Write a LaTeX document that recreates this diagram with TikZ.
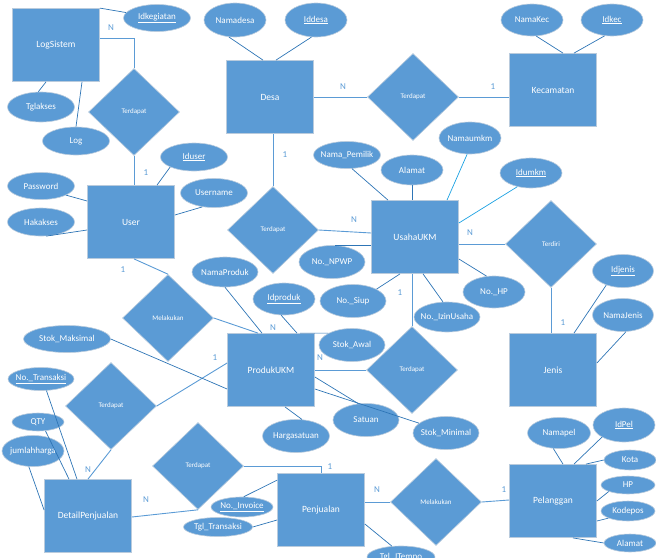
\documentclass[tikz,border=0pt]{standalone}
\usepackage{fontspec}
\setmainfont{Carlito}
\usetikzlibrary{shapes.geometric,calc}
\definecolor{ukm}{HTML}{5B9BD5}
\definecolor{edg}{HTML}{B9CBDD}
\definecolor{aln}{HTML}{2E75B6}
\definecolor{rln}{HTML}{5B9BD5}
\definecolor{cln}{HTML}{1BA1E2}
\definecolor{lbl}{HTML}{5B9BD5}
\newcommand{\zb}[1]{\makebox[0pt]{#1}}
\begin{document}
\begin{tikzpicture}[x=1pt,y=-1pt,
  ent/.style={rectangle,fill=ukm,draw=edg,line width=0.8pt,minimum width=87pt,minimum height=73pt,inner sep=0pt,text=white,font=\fontsize{9.5}{11}\selectfont},
  rel/.style={diamond,fill=ukm,draw=edg,line width=0.6pt,minimum width=91pt,minimum height=87pt,inner sep=0pt,text=white,font=\fontsize{7}{8}\selectfont},
  attr/.style 2 args={ellipse,fill=ukm,draw=edg,line width=0.6pt,minimum width=#1,minimum height=#2,inner sep=0pt,text=white,font=\fontsize{9}{10}\selectfont},
  aconn/.style={draw=aln,line width=0.7pt},
  rconn/.style={draw=rln,line width=0.9pt},
  cconn/.style={draw=cln,line width=0.7pt},
  card/.style={text=lbl,font=\fontsize{9}{10}\selectfont,inner sep=0pt}]
\useasboundingbox (0,0) rectangle (656,557);

% entities
\node[ent] (LogSistem) at (56,45) {LogSistem};
\node[ent] (User) at (131,222) {User};
\node[ent] (Desa) at (270,97) {Desa};
\node[ent] (Kecamatan) at (553,90) {Kecamatan};
\node[ent] (UsahaUKM) at (415,237) {UsahaUKM};
\node[ent] (Jenis) at (553,370) {Jenis};
\node[ent] (ProdukUKM) at (271,370) {ProdukUKM};
\node[ent] (DetailPenjualan) at (88,516) {DetailPenjualan};
\node[ent] (Penjualan) at (321,510) {Penjualan};
\node[ent] (Pelanggan) at (553,501) {Pelanggan};

% relationships
\node[rel] (R1) at (134,112) {Terdapat};
\node[rel] (R2) at (413,97) {Terdapat};
\node[rel] (R3) at (273,230) {Terdapat};
\node[rel] (R4) at (551,244) {Terdiri};
\node[rel] (R5) at (412,370) {Terdapat};
\node[rel] (R6) at (168,318) {Melakukan};
\node[rel] (R7) at (111,406) {Terdapat};
\node[rel] (R8) at (198,466) {Terdapat};
\node[rel] (R9) at (436,502) {Melakukan};

% attributes
\node[attr={67pt}{27pt}] (Idkegiatan) at (157,18) {\zb{\underline{Idkegiatan}}};
\node[attr={67pt}{30pt}] (Tglakses) at (41,107) {\zb{Tglakses}};
\node[attr={67pt}{28pt}] (Log) at (76,141) {\zb{Log}};
\node[attr={67pt}{28pt}] (Iduser) at (194,157) {\zb{\underline{Iduser}}};
\node[attr={67pt}{27pt}] (Password) at (41,186) {\zb{Password}};
\node[attr={67pt}{28pt}] (Hakakses) at (41,222) {\zb{Hakakses}};
\node[attr={67pt}{29pt}] (Username) at (214,193) {\zb{Username}};
\node[attr={62pt}{34pt}] (Namadesa) at (235,20) {\zb{Namadesa}};
\node[attr={62pt}{34pt}] (Iddesa) at (316,20) {\zb{\underline{Iddesa}}};
\node[attr={62pt}{32pt}] (NamaKec) at (532,20) {\zb{NamaKec}};
\node[attr={62pt}{32pt}] (Idkec) at (612,20) {\zb{\underline{Idkec}}};
\node[attr={67pt}{27pt}] (NamaPemilik) at (347,155) {\zb{Nama\_Pemilik}};
\node[attr={62pt}{30pt}] (Alamat) at (412,170) {\zb{Alamat}};
\node[attr={62pt}{32pt}] (Namaumkm) at (470,138) {\zb{Namaumkm}};
\node[attr={62pt}{30pt}] (Idumkm) at (531,173) {\zb{\underline{Idumkm}}};
\node[attr={66pt}{33pt}] (NoNPWP) at (332,262) {\zb{No.\_NPWP}};
\node[attr={66pt}{33pt}] (NoSiup) at (353,301) {\zb{No.\_Siup}};
\node[attr={66pt}{30pt}] (NoIzin) at (447,317) {\zb{No.\_IzinUsaha}};
\node[attr={62pt}{32pt}] (NoHP) at (494,292) {\zb{No.\_HP}};
\node[attr={61pt}{33pt}] (Idjenis) at (623,271) {\zb{\underline{Idjenis}}};
\node[attr={61pt}{33pt}] (NamaJenis) at (623,315) {\zb{NamaJenis}};
\node[attr={66pt}{30pt}] (NamaProduk) at (225,272) {\zb{NamaProduk}};
\node[attr={62pt}{32pt}] (Idproduk) at (284,299) {\zb{\underline{Idproduk}}};
\node[attr={66pt}{33pt}] (StokAwal) at (352,345) {\zb{Stok\_Awal}};
\node[attr={66pt}{33pt}] (Satuan) at (366,420) {\zb{Satuan}};
\node[attr={66pt}{33pt}] (StokMin) at (446,433) {\zb{Stok\_Minimal}};
\node[attr={67pt}{33pt}] (Hargasatuan) at (296,436) {\zb{Hargasatuan}};
\node[attr={87pt}{27pt}] (StokMaks) at (67,339) {\zb{Stok\_Maksimal}};
\node[attr={66pt}{23pt}] (NoTransaksi) at (41,379) {\zb{\underline{No.\_Transaksi}}};
\node[attr={52pt}{18pt}] (QTY) at (38,422) {\zb{QTY}};
\node[attr={62pt}{31pt}] (jumlahharga) at (33,451) {\zb{jumlahharga}};
\node[attr={62pt}{20pt}] (NoInvoice) at (242,507) {\zb{\underline{No.\_Invoice}}};
\node[attr={69pt}{19pt}] (TglTransaksi) at (218,527) {\zb{Tgl\_Transaksi}};
\node[attr={68pt}{22pt}] (TglJTempo) at (401,557) {\zb{Tgl\_JTempo}};
\node[attr={63pt}{31pt}] (Namapel) at (559,433) {\zb{Namapel}};
\node[attr={62pt}{34pt}] (IdPel) at (624,425) {\zb{\underline{IdPel}}};
\node[attr={52pt}{20pt}] (Kota) at (630,460) {\zb{Kota}};
\node[attr={54pt}{18pt}] (HP) at (628,485) {\zb{HP}};
\node[attr={54pt}{20pt}] (Kodepos) at (628,511) {\zb{Kodepos}};
\node[attr={52pt}{18pt}] (AlamatP) at (630,543) {\zb{Alamat}};

% relationship connectors
\draw[rconn] ([yshift=7pt]LogSistem.east) -| (R1.north);
\draw[rconn] (R1.south) -- (R1.south |- User.north);
\draw[rconn] ([xshift=3pt]User.south) -- (R6.north);
\draw[rconn] (R6.east) -- ([xshift=-13pt]ProdukUKM.north);
\draw[rconn] (Desa.east) -- (R2.west);
\draw[rconn] (R2.east) -- (R2.east -| Kecamatan.west);
\draw[rconn] ([xshift=3pt]Desa.south) -- (R3.north);
\draw[rconn] (R3.east) -- ([yshift=4pt]UsahaUKM.west);
\draw[rconn] ([yshift=-7pt]UsahaUKM.east) -- (R4.west);
\draw[rconn] (R4.south) -- (R4.south |- Jenis.north);
\draw[rconn] (ProdukUKM.east) -- (R5.west);
\draw[rconn] (R5.north) -- (R5.north |- UsahaUKM.south);
\draw[rconn] (R7.east) -- ([yshift=7pt]ProdukUKM.west);
\draw[rconn] (R7.south) -- (DetailPenjualan.north);
\draw[rconn] ([yshift=-1pt]DetailPenjualan.east) -- (R8.south);
\draw[rconn] (R8.east) -| (Penjualan.north);
\draw[rconn] ([yshift=8pt]Penjualan.east) -- (R9.west);
\draw[rconn] (R9.east) -- ([yshift=1pt]Pelanggan.west);

% attribute connectors
\draw[aconn] (LogSistem.north east) -- (Idkegiatan.170);
\draw[aconn] (Tglakses.100) -- ([xshift=-10pt]LogSistem.south);
\draw[aconn] (Log.north) -- ([xshift=26pt]LogSistem.south);
\draw[aconn] (Iduser.south west) -- ([xshift=26pt]User.north);
\draw[aconn] (Password.-20) -- ([yshift=21pt]User.west);
\draw[aconn] (Hakakses.-70) -- ([yshift=-8pt]User.west);
\draw[aconn] (Username.230) -- ([yshift=7pt]User.east);
\draw[aconn] (Namadesa.-110) -- ([xshift=-7pt]Desa.north);
\draw[aconn] (Iddesa.-105) -- ([xshift=6pt]Desa.north);
\draw[aconn] (NamaKec.-75) -- ([xshift=10pt]Kecamatan.north);
\draw[aconn] (Idkec.-115) -- ([xshift=21pt]Kecamatan.north);
\draw[aconn] (NamaPemilik.-70) -- ([xshift=-27pt]UsahaUKM.north);
\draw[aconn] (Alamat.south) -- (Alamat.south |- UsahaUKM.north);
\draw[cconn] (Namaumkm.-100) -- ([xshift=32pt]UsahaUKM.north);
\draw[cconn] (Idumkm.-135) -- ([yshift=14pt]UsahaUKM.east);
\draw[aconn] ([yshift=-22pt]UsahaUKM.east) -- (NoHP.115);
\draw[aconn] ([xshift=8pt]UsahaUKM.south) -- (NoIzin.105);
\draw[aconn] (NoSiup.north east) -- ([xshift=-15pt]UsahaUKM.south);
\draw[aconn] (NoNPWP.80) -- (NoNPWP.80 -| UsahaUKM.west);
\draw[aconn] (Idjenis.-140) -- ([xshift=21pt]Jenis.north);
\draw[aconn] (NamaJenis.-80) -- ([yshift=7pt]Jenis.east);
\draw[aconn] (NamaProduk.south) -- ([xshift=-9pt]ProdukUKM.north);
\draw[aconn] (Idproduk.-100) -- ([xshift=26pt]ProdukUKM.north);
\draw[aconn] ([xshift=29pt]ProdukUKM.north) -- (StokAwal.north west);
\draw[aconn] ([yshift=-7pt]ProdukUKM.east) -- (Satuan.115);
\draw[aconn] ([yshift=-19pt]ProdukUKM.east) -- (StokMin.160);
\draw[aconn] (Hargasatuan.70) -- ([xshift=14pt]ProdukUKM.south);
\draw[aconn] (StokMaks.east) -- ([yshift=-19pt]ProdukUKM.west);
\draw[aconn] (NoTransaksi.-65) -- ([xshift=-11pt]DetailPenjualan.north);
\draw[aconn] (QTY.-50) -- ([xshift=-19pt]DetailPenjualan.north);
\draw[aconn] (jumlahharga.-105) -- ([yshift=6pt]DetailPenjualan.west);
\draw[aconn] (NoInvoice.80) -- ([yshift=-7pt]Penjualan.north west);
\draw[aconn] (TglTransaksi.east) -- ([yshift=-10pt]Penjualan.west);
\draw[aconn] ([yshift=-14pt]Penjualan.east) -- (TglJTempo.130);
\draw[aconn] (Namapel.-110) -- ([xshift=10pt]Pelanggan.north);
\draw[aconn] (IdPel.south west) -- ([xshift=21pt]Pelanggan.north);
\draw[aconn] (Kota.west) -- ([xshift=33pt]Pelanggan.north);
\draw[aconn] (HP.south west) -- (Pelanggan.east);
\draw[aconn] (Kodepos.200) -- ([yshift=-20pt]Pelanggan.east);
\draw[aconn] (AlamatP.west) -- ([xshift=20pt]Pelanggan.south);

% cardinalities
\node[card] (c1) at (111,28) {N};
\node[card] (c2) at (146,173) {1};
\node[card] (c3) at (123,270) {1};
\node[card] (c4) at (273,328) {N};
\node[card] (c5) at (343,87) {N};
\node[card] (c6) at (493,87) {1};
\node[card] (c7) at (285,155) {1};
\node[card] (c8) at (354,220) {N};
\node[card] (c9) at (470,233) {N};
\node[card] (c10) at (563,323) {1};
\node[card] (c11) at (320,358) {N};
\node[card] (c12) at (400,293) {1};
\node[card] (c13) at (215,358) {1};
\node[card] (c14) at (88,470) {N};
\node[card] (c15) at (146,500) {N};
\node[card] (c16) at (330,467) {1};
\node[card] (c17) at (377,490) {N};
\node[card] (c18) at (504,490) {1};
\end{tikzpicture}
\end{document}
